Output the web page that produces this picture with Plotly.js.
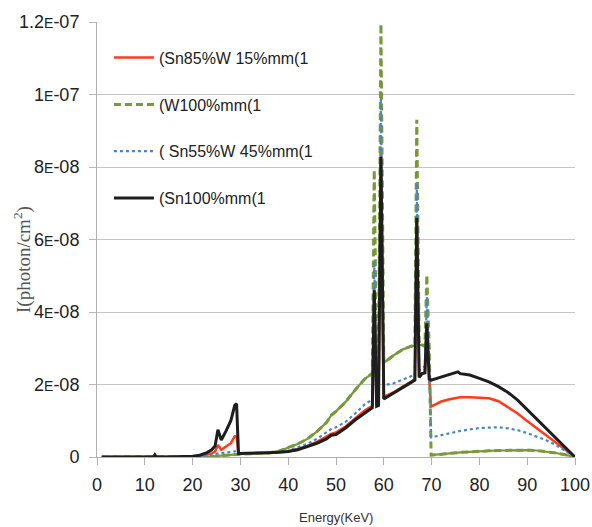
<!DOCTYPE html>
<html>
<head>
<meta charset="utf-8">
<script src="https://cdn.plot.ly/plotly-3.0.1.min.js"></script>
<style>html,body{margin:0;padding:0;background:#fff;}#chart{width:592px;height:527px;}</style>
</head>
<body>
<div id="chart"></div>
<script>
// Energy (keV)
var energy = [1,5,10,11.8,12.1,12.4,15,18,20,21.5,23,24,24.7,25.3,26,27,28,28.8,29.2,29.6,30,32,34,36,38,40,42,44,46,48,49,50,52,54,56,57.6,58.0,58.5,58.9,59.4,60.0,62,64,66,66.5,66.9,67.4,68,68.6,69.0,69.5,69.9,72,74,75.5,76,78,80,82,84,86,88,90,92,94,96,98,100];
// Intensities in units of 1E-08 photon/cm2
var sn85w15 = [0,0,0,0,0.02,0,0,0,0.01,0.03,0.06,0.1,0.15,0.33,0.2,0.28,0.38,0.57,0.58,0.08,0.09,0.1,0.1,0.11,0.13,0.15,0.22,0.3,0.42,0.56,0.64,0.68,0.84,1.06,1.28,1.41,4.7,1.45,1.47,8.35,1.66,1.78,1.95,2.1,2.14,6.65,2.2,2.3,2.32,3.73,2.15,1.39,1.53,1.6,1.64,1.65,1.65,1.64,1.62,1.54,1.38,1.2,0.99,0.79,0.6,0.4,0.19,0];
var w100 = [0,0,0,0,0,0,0,0,0,0,0.01,0.02,0.02,0.03,0.04,0.05,0.06,0.07,0.07,0.07,0.08,0.09,0.1,0.12,0.16,0.26,0.36,0.5,0.7,0.95,1.15,1.26,1.52,1.85,2.15,2.31,7.92,2.38,2.42,11.95,2.6,2.8,2.97,3.07,3.08,9.3,3.09,3.09,3.05,5.02,3.0,0.05,0.07,0.1,0.12,0.13,0.15,0.16,0.17,0.18,0.19,0.19,0.19,0.18,0.15,0.11,0.06,0];
var sn55w45 = [0,0,0,0,0,0,0,0,0,0.01,0.03,0.05,0.07,0.1,0.1,0.12,0.14,0.16,0.16,0.1,0.1,0.1,0.11,0.12,0.13,0.18,0.27,0.36,0.5,0.68,0.77,0.82,0.97,1.2,1.45,1.59,5.4,1.65,1.68,9.9,1.98,2.03,2.13,2.23,2.27,7.55,2.38,2.45,2.5,4.42,2.6,0.54,0.61,0.66,0.7,0.72,0.76,0.8,0.81,0.82,0.79,0.74,0.66,0.57,0.46,0.33,0.17,0];
var sn100 = [0,0,0,0,0.06,0,0,0,0.02,0.05,0.12,0.2,0.3,0.75,0.47,0.72,1.0,1.42,1.47,0.1,0.1,0.11,0.1,0.12,0.13,0.15,0.2,0.28,0.38,0.5,0.6,0.62,0.8,1.02,1.22,1.36,4.6,1.4,1.42,8.28,1.6,1.75,1.92,2.08,2.12,6.6,2.2,2.3,2.32,3.69,2.15,2.12,2.2,2.28,2.35,2.3,2.26,2.17,2.07,1.94,1.78,1.57,1.31,1.04,0.78,0.51,0.25,0];

var seriesNames = ["(Sn85%W 15%mm(1","(W100%mm(1","( Sn55%W 45%mm(1","(Sn100%mm(1"];
var yTickVals = [0,2,4,6,8,10,12];
var yTickText = ["0","2<span style='font-size:14px'>E</span>-08","4<span style='font-size:14px'>E</span>-08","6<span style='font-size:14px'>E</span>-08","8<span style='font-size:14px'>E</span>-08","1<span style='font-size:14px'>E</span>-07","1.2<span style='font-size:14px'>E</span>-07"];
var xTickVals = [0,10,20,30,40,50,60,70,80,90,100];

// Solid base of the W100 curve (short segments look solid, long jumps dashed)
var baseX = [], baseY = [];
for (var i = 0; i < energy.length; i++) {
  baseX.push(energy[i]); baseY.push(w100[i]);
  if (i < energy.length - 1 && Math.abs(w100[i+1] - w100[i]) > 0.5) {
    baseX.push(null); baseY.push(null);
  }
}

var traces = [
  {x: energy, y: sn85w15, name: seriesNames[0], legendgroup: "a", mode: "lines",
   line: {color: "#FF3B1A", width: 2.5}},
  {x: baseX, y: baseY, name: seriesNames[1], legendgroup: "b", showlegend: false, mode: "lines",
   line: {color: "#77993A", width: 2.2}, connectgaps: false},
  {x: energy, y: w100, name: seriesNames[1], legendgroup: "b", mode: "lines",
   line: {color: "#77993A", width: 3, dash: "7px,4px"}},
  {x: energy, y: sn55w45, name: seriesNames[2], legendgroup: "c", mode: "lines",
   line: {color: "#4A84C4", width: 2.2, dash: "dot"}},
  {x: energy, y: sn100, name: seriesNames[3], legendgroup: "d", mode: "lines",
   line: {color: "#1E1E1E", width: 3}}
];

var layout = {
  width: 592, height: 527,
  margin: {l: 97, r: 17, t: 22, b: 70, pad: 0},
  paper_bgcolor: "#fff", plot_bgcolor: "#fff",
  font: {family: "Liberation Sans, Arial, sans-serif", color: "#222"},
  showlegend: true,
  legend: {x: 0.025, y: 0.957, xanchor: "left", yanchor: "top", bgcolor: "rgba(0,0,0,0)",
           font: {size: 16, color: "#222"}, traceorder: "grouped", tracegroupgap: 23, itemwidth: 40},
  xaxis: {range: [0, 100], tickvals: xTickVals, ticks: "outside", ticklen: 7, tickcolor: "#b0b0b0",
          showgrid: false, zeroline: false, showline: true, linecolor: "#b0b0b0", linewidth: 1,
          tickfont: {size: 18, color: "#222"}, ticklabelstandoff: 4, fixedrange: true},
  yaxis: {range: [0, 12], tickvals: yTickVals, ticktext: yTickText, ticks: "outside", ticklen: 7,
          tickcolor: "#b8b8b8", showgrid: true, gridcolor: "#c4c4c4", gridwidth: 1, zeroline: false,
          showline: true, linecolor: "#b0b0b0", linewidth: 1, tickfont: {size: 18, color: "#222"},
          ticklabelstandoff: 6, fixedrange: true},
  annotations: [
    {text: "I(photon/cm<sup>2</sup>)", xref: "paper", yref: "paper", x: -0.157, y: 0.455,
     xanchor: "center", yanchor: "middle", textangle: -90, showarrow: false,
     font: {family: "Liberation Serif, Times New Roman, serif", size: 19, color: "#555"}},
    {text: "Energy(KeV)", xref: "paper", yref: "paper", x: 0.5, y: -0.14,
     xanchor: "center", yanchor: "middle", showarrow: false,
     font: {family: "Liberation Sans, Arial, sans-serif", size: 13, color: "#333"}}
  ]
};

Plotly.newPlot("chart", traces, layout, {staticPlot: true, displayModeBar: false});
</script>
</body>
</html>
